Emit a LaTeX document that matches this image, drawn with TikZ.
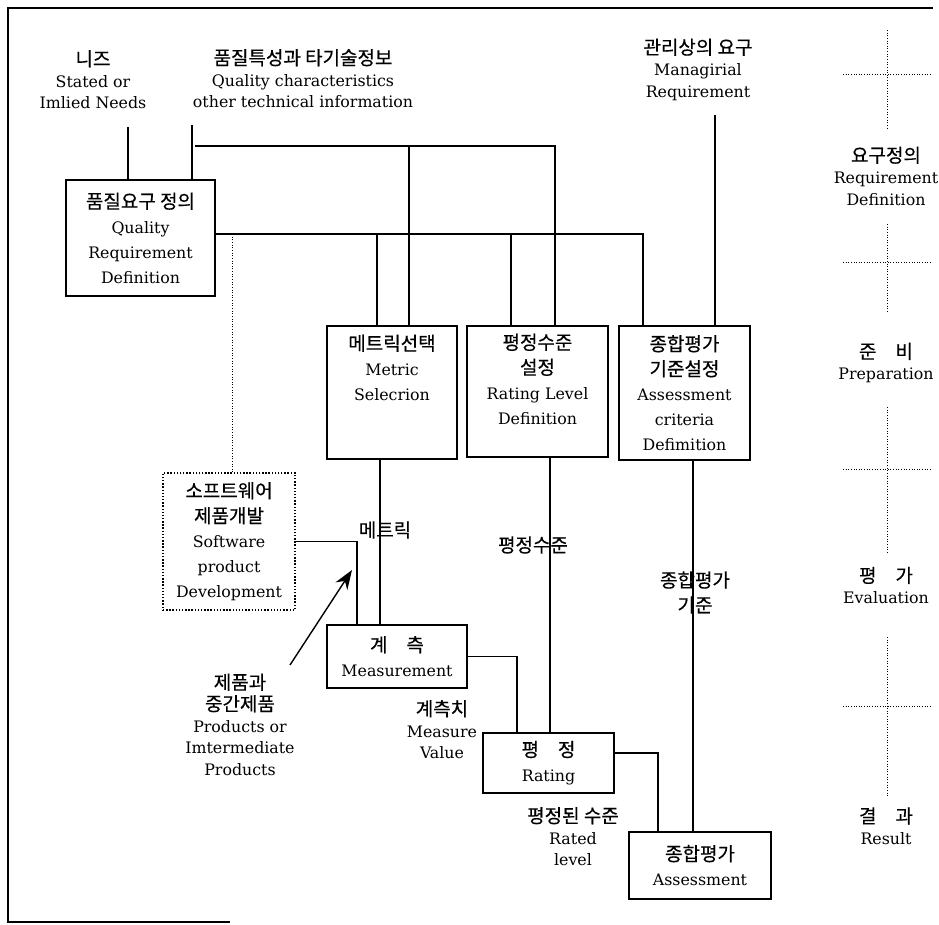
\documentclass[tikz,border=0pt]{standalone}
\usepackage{fontspec}
\setmainfont{DejaVu Serif}
\newfontfamily\kr{Noto Sans CJK KR}[Scale=1.2, FakeBold=0.4]
\usetikzlibrary{arrows.meta, positioning, calc}

\begin{document}
\begin{tikzpicture}[
        >=Stealth,
        box/.style={draw, line width=0.8pt, align=center, inner sep=0pt, font=\fontsize{9}{14.2}\selectfont},
        devbox/.style={box, densely dotted},
        lbl/.style={align=center, inner sep=1pt, font=\fontsize{9}{12.2}\selectfont},
        link/.style={line width=0.8pt},
        guide/.style={densely dotted, line width=0.5pt}
    ]
    \useasboundingbox (0,0) rectangle (18.78,-18.5);

    % frame
    \draw[link] (4.6,-18.44) -- (0.16,-18.44) -- (0.16,-0.16) -- (18.66,-0.16);

    % inputs
    \node[lbl] (needs) at (1.86,-1.59) {{\kr 니즈}\\Stated or\\Imlied Needs};
    \node[lbl] (charinfo) at (6.06,-1.57) {{\kr 품질특성과 타기술정보}\\Quality characteristics\\other technical information};
    \node[lbl] (mgmt) at (13.96,-1.39) {{\kr 관리상의 요구}\\Managirial\\Requirement};

    % boxes
    \node[box, minimum width=2.98cm, minimum height=2.32cm] (qrd) at (2.81,-4.76)
        {{\kr 품질요구 정의}\\Quality\\Requirement\\Definition};
    \node[box, minimum width=2.6cm, minimum height=2.66cm] (metric) at (7.84,-7.85)
        {{\kr 메트릭선택}\\Metric\\Selecrion\\~\\~};
    \node[box, minimum width=2.82cm, minimum height=2.62cm] (ratinglevel) at (10.75,-7.83)
        {{\kr 평정수준}\\{\kr 설정}\\Rating Level\\Definition\\~};
    \node[box, minimum width=2.62cm, minimum height=2.68cm] (criteria) at (13.69,-7.86)
        {{\kr 종합평가}\\{\kr 기준설정}\\Assessment\\criteria\\Defimition};
    \node[devbox, minimum width=2.64cm, minimum height=2.74cm] (software) at (4.58,-10.83)
        {{\kr 소프트웨어}\\{\kr 제품개발}\\Software\\product\\Development};
    \node[box, minimum width=2.8cm, minimum height=1.26cm] (measurement) at (7.94,-13.13)
        {{\kr 계\quad 측}\\Measurement};
    \node[box, minimum width=2.62cm, minimum height=1.2cm] (rating) at (10.97,-15.26)
        {{\kr 평\quad 정}\\Rating};
    \node[box, minimum width=2.84cm, minimum height=1.34cm] (assessment) at (14.0,-17.31)
        {{\kr 종합평가}\\Assessment};

    % labels on the flow
    \node[lbl] (metriclbl) at (7.7,-10.6) {\kr 메트릭};
    \node[lbl] (levellbl) at (10.66,-10.9) {\kr 평정수준};
    \node[lbl, font=\fontsize{9}{14.2}\selectfont] (criterialbl) at (13.9,-11.85) {{\kr 종합평가}\\{\kr 기준}};
    \node[lbl] (products) at (4.8,-14.49) {{\kr 제품과}\\{\kr 중간제품}\\Products or\\Imtermediate\\Products};
    \node[lbl] (measurelbl) at (8.84,-14.59) {{\kr 계측치}\\Measure\\Value};
    \node[lbl] (ratedlbl) at (11.46,-16.73) {{\kr 평정된 수준}\\Rated\\level};

    % phases
    \node[lbl] (phasereq) at (17.72,-3.52) {{\kr 요구정의}\\Requirement\\Definition};
    \node[lbl] (phaseprep) at (17.72,-7.26) {{\kr 준\quad 비}\\Preparation};
    \node[lbl] (phaseeval) at (17.72,-11.71) {{\kr 평\quad 가}\\Evaluation};
    \node[lbl] (phaseres) at (17.72,-16.52) {{\kr 결\quad 과}\\Result};

    \draw[guide] (17.74,-0.6) -- (17.74,-2.6);
    \draw[guide] (16.86,-1.48) -- (18.64,-1.48);
    \draw[guide] (17.74,-4.48) -- (17.74,-6.24);
    \draw[guide] (16.86,-5.24) -- (18.64,-5.24);
    \draw[guide] (17.74,-8.14) -- (17.74,-11.06);
    \draw[guide] (16.86,-9.38) -- (18.64,-9.38);
    \draw[guide] (17.74,-12.74) -- (17.74,-15.94);
    \draw[guide] (16.86,-14.12) -- (18.64,-14.12);

    % connectors
    \coordinate (needsend) at (2.56,-2.54);
    \coordinate (charend) at (3.84,-2.5);
    \coordinate (charbus) at (3.9,-2.92);
    \coordinate (mgmtend) at (14.3,-2.3);
    \coordinate (reqbus) at ([yshift=0.08cm]qrd.east);
    \coordinate (levelend) at ([xshift=0.25cm]ratinglevel.south);

    \draw[link] (needsend) -- (needsend |- qrd.north);
    \draw[link] (charend) -- (charend |- qrd.north);
    \draw[link] (charbus) -| ([xshift=0.35cm]ratinglevel.north);
    \draw[link] ([xshift=0.34cm]metric.north) -- ([xshift=0.34cm]metric.north |- charbus);

    \draw[link] (reqbus) -| ([xshift=-0.83cm]criteria.north);
    \draw[link] ([xshift=-0.3cm]metric.north) -- ([xshift=-0.3cm]metric.north |- reqbus);
    \draw[link] ([xshift=-0.53cm]ratinglevel.north) -- ([xshift=-0.53cm]ratinglevel.north |- reqbus);
    \draw[guide] ([xshift=0.06cm]software.north) -- ([xshift=0.06cm]software.north |- reqbus);
    \draw[link] (mgmtend) -- (mgmtend |- criteria.north);

    \draw[link] ([xshift=-0.24cm]metric.south) -- ([xshift=-0.24cm]metric.south |- measurement.north);
    \draw[link] (software.east) -| ([xshift=-0.8cm]measurement.north);

    \coordinate (prodtail) at (5.8,-13.3);
    \coordinate (prodhead) at (7.04,-11.4);
    \draw[link, -{Stealth[length=11pt, width=8pt]}] (prodtail) -- (prodhead);

    \draw[link] (measurement.east) -| ([xshift=-0.63cm]rating.north);
    \draw[link] (levelend) -- (levelend |- rating.north);
    \draw[link] ([yshift=0.2cm]rating.east) -| ([xshift=-0.84cm]assessment.north);
    \draw[link] ([xshift=0.17cm]criteria.south) -- ([xshift=0.17cm]criteria.south |- assessment.north);

\end{tikzpicture}
\end{document}
